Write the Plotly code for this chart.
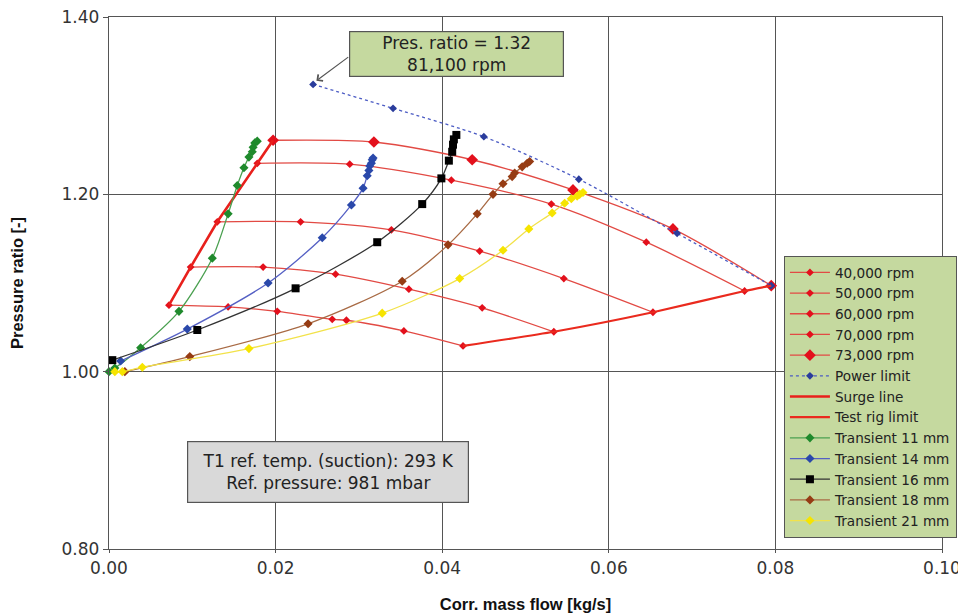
import plotly.graph_objects as go

# ---- data ----
rpm40_x = [0.0072, 0.0143, 0.0202, 0.0268, 0.0285, 0.0354, 0.0425]
rpm40_y = [1.075, 1.073, 1.068, 1.059, 1.058, 1.046, 1.029]
rpm50_x = [0.0098, 0.0185, 0.0272, 0.0360, 0.0448, 0.0534]
rpm50_y = [1.118, 1.118, 1.110, 1.093, 1.072, 1.045]
rpm60_x = [0.0130, 0.0230, 0.0339, 0.0445, 0.0546, 0.0653]
rpm60_y = [1.169, 1.169, 1.160, 1.136, 1.105, 1.067]
rpm70_x = [0.0178, 0.0289, 0.0411, 0.0531, 0.0645, 0.0763]
rpm70_y = [1.235, 1.234, 1.216, 1.189, 1.146, 1.091]
rpm73_x = [0.0197, 0.0318, 0.0436, 0.0557, 0.0677, 0.0795]
rpm73_y = [1.261, 1.259, 1.239, 1.205, 1.161, 1.097]

power_x = [0.0245, 0.0341, 0.0450, 0.0564, 0.0682, 0.0795]
power_y = [1.324, 1.297, 1.265, 1.217, 1.156, 1.097]

surge_x = [0.0072, 0.0098, 0.0130, 0.0178, 0.0197]
surge_y = [1.075, 1.118, 1.169, 1.235, 1.261]

rig_x = [0.0425, 0.0534, 0.0653, 0.0763, 0.0795]
rig_y = [1.029, 1.045, 1.067, 1.091, 1.097]

t11_x = [0.0000, 0.0007, 0.0038, 0.0084, 0.0124, 0.0143, 0.0154, 0.0162, 0.0168, 0.0172, 0.0173, 0.0175, 0.0178]
t11_y = [1.000, 1.004, 1.027, 1.068, 1.128, 1.178, 1.210, 1.230, 1.242, 1.248, 1.253, 1.258, 1.260]
t14_x = [0.0014, 0.0094, 0.0191, 0.0256, 0.0291, 0.0305, 0.0310, 0.0312, 0.0313, 0.0315, 0.0316, 0.0317]
t14_y = [1.012, 1.048, 1.100, 1.151, 1.188, 1.207, 1.221, 1.227, 1.232, 1.235, 1.239, 1.241]
t16_x = [0.0004, 0.0106, 0.0224, 0.0322, 0.0376, 0.0399, 0.0408, 0.0412, 0.0413, 0.0414, 0.0417]
t16_y = [1.013, 1.047, 1.094, 1.146, 1.189, 1.218, 1.238, 1.248, 1.256, 1.262, 1.267]
t18_x = [0.0019, 0.0097, 0.0239, 0.0352, 0.0407, 0.0442, 0.0461, 0.0473, 0.0484, 0.0487, 0.0496, 0.0502, 0.0505]
t18_y = [1.000, 1.017, 1.054, 1.102, 1.143, 1.178, 1.200, 1.212, 1.220, 1.224, 1.231, 1.235, 1.237]
t21_x = [0.0007, 0.0016, 0.0040, 0.0168, 0.0328, 0.0421, 0.0473, 0.0504, 0.0532, 0.0547, 0.0555, 0.0562, 0.0565, 0.0569]
t21_y = [1.000, 1.000, 1.005, 1.026, 1.066, 1.105, 1.137, 1.161, 1.179, 1.190, 1.195, 1.198, 1.200, 1.202]

x_ticks = [0.00, 0.02, 0.04, 0.06, 0.08, 0.10]
y_ticks = [0.80, 1.00, 1.20, 1.40]

TICK_FONT = dict(family="DejaVu Sans", size=17, color="#333333")
BOX_FONT = dict(family="DejaVu Sans", size=17, color="#222222")
TITLE_FONT = dict(family="Liberation Sans", size=16.5, color="#111111")

fig = go.Figure()

def add(x, y, name, lc, mc, lw=1.3, symbol="diamond", msize=6, dash="solid", mode="lines+markers"):
    fig.add_trace(go.Scatter(
        x=x, y=y, name=name, mode=mode,
        line=dict(color=lc, width=lw, dash=dash, shape="spline", smoothing=0.8),
        marker=dict(symbol=symbol, size=msize, color=mc, line=dict(width=0)),
        cliponaxis=False,
    ))

speed_line = "#e24a44"
speed_mark = "#e3101c"
add(rpm40_x, rpm40_y, "40,000 rpm", speed_line, speed_mark)
add(rpm50_x, rpm50_y, "50,000 rpm", speed_line, speed_mark)
add(rpm60_x, rpm60_y, "60,000 rpm", speed_line, speed_mark)
add(rpm70_x, rpm70_y, "70,000 rpm", speed_line, speed_mark)
add(rpm73_x, rpm73_y, "73,000 rpm", speed_line, speed_mark, msize=9)
add(power_x, power_y, "Power limit", "#4c5cc4", "#2a3c9c", lw=1.3, dash="dot")
fig.add_trace(go.Scatter(x=surge_x, y=surge_y, name="Surge line", mode="lines",
                         line=dict(color="#e8201c", width=2.6), cliponaxis=False))
fig.add_trace(go.Scatter(x=rig_x, y=rig_y, name="Test rig limit", mode="lines",
                         line=dict(color="#ea2a1e", width=2.2, shape="spline", smoothing=0.5),
                         cliponaxis=False))
add(t11_x, t11_y, "Transient 11 mm", "#4aa050", "#1f8a2c", msize=7)
add(t14_x, t14_y, "Transient 14 mm", "#5560c4", "#2a48aa", msize=7)
add(t16_x, t16_y, "Transient 16 mm", "#333333", "#000000", symbol="square", msize=8)
add(t18_x, t18_y, "Transient 18 mm", "#a86a44", "#963c14", msize=7)
add(t21_x, t21_y, "Transient 21 mm", "#f2e24a", "#f6e400", msize=7)

# annotations
fig.add_annotation(x=0.0249, y=1.328, ax=0.0289, ay=1.356, axref="x", ayref="y",
                   xref="x", yref="y", text="", showarrow=True,
                   arrowhead=4, arrowsize=1.3, arrowwidth=1.2, arrowcolor="#555555")
fig.add_annotation(x=0.0417, y=1.358, xref="x", yref="y", showarrow=False,
                   text="Pres. ratio = 1.32<br>81,100 rpm", font=BOX_FONT,
                   bgcolor="#c5d99f", bordercolor="#555555", borderwidth=1.2,
                   width=211, height=42, align="center")
fig.add_annotation(x=0.0263, y=0.887, xref="x", yref="y", showarrow=False,
                   text="T1 ref. temp. (suction): 293 K<br>Ref. pressure: 981 mbar", font=BOX_FONT,
                   bgcolor="#d9d9d9", bordercolor="#555555", borderwidth=1.2,
                   width=278, height=58, align="center")

# page body has an 8px default margin, so the figure is 8px smaller than the window
fig.update_layout(
    width=958, height=607,
    margin=dict(l=101, r=24, t=9, b=66, autoexpand=False),
    paper_bgcolor="white", plot_bgcolor="white",
    showlegend=True,
    legend=dict(
        x=0.81, y=0.551, xanchor="left", yanchor="top",
        bgcolor="#c5d99f", bordercolor="#555555", borderwidth=1.2,
        font=dict(family="DejaVu Sans", size=13.6, color="#222222"),
        tracegroupgap=0, itemwidth=40,
    ),
    xaxis=dict(
        range=[0, 0.10], tickvals=x_ticks, tickformat=".2f",
        showgrid=True, gridcolor="#555555", gridwidth=1.4,
        showline=True, linecolor="#555555", linewidth=1.4, mirror=True,
        ticks="outside", ticklen=3, tickcolor="#555555", tickwidth=1.4,
        tickfont=TICK_FONT, zeroline=False, automargin=False,
        ticklabeloverflow="allow",
        title=dict(text="<b>Corr. mass flow [kg/s]</b>", standoff=21, font=TITLE_FONT),
    ),
    yaxis=dict(
        range=[0.80, 1.40], tickvals=y_ticks, tickformat=".2f",
        showgrid=True, gridcolor="#555555", gridwidth=1.4,
        showline=True, linecolor="#555555", linewidth=1.4, mirror=True,
        ticks="outside", ticklen=5, tickcolor="#555555", tickwidth=1.4,
        tickfont=TICK_FONT, zeroline=False, automargin=False,
        ticklabeloverflow="allow",
        title=dict(text="<b>Pressure ratio [-]</b>", standoff=34, font=TITLE_FONT),
    ),
)

fig.write_html("out.html")
